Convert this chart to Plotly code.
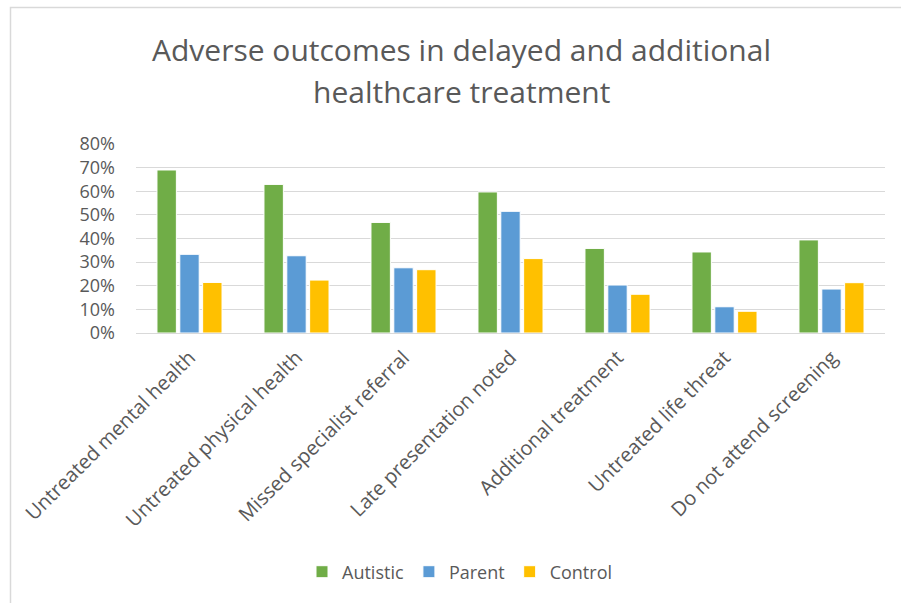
import plotly.graph_objects as go

categories = ["Untreated mental health", "Untreated physical health", "Missed specialist referral",
              "Late presentation noted", "Additional treatment", "Untreated life threat",
              "Do not attend screening"]
autistic = [0.690, 0.629, 0.468, 0.597, 0.358, 0.343, 0.394]
parent = [0.333, 0.327, 0.276, 0.515, 0.203, 0.111, 0.186]
control = [0.214, 0.224, 0.268, 0.315, 0.164, 0.092, 0.213]
series_names = ["Autistic", "Parent", "Control"]
colors = ["#70ad47", "#5b9bd5", "#ffc000"]
tick_vals = [0, 0.1, 0.2, 0.3, 0.4, 0.5, 0.6, 0.7, 0.8]
tick_text = ["0%", "10%", "20%", "30%", "40%", "50%", "60%", "70%", "80%"]
title_lines = ["Adverse outcomes in delayed and additional", "healthcare treatment"]

FONT = "Open Sans"
TXT = "#595959"
PW, PH, PL, PT = 749, 189, 136, 144  # plot area size / origin in pixels

fig = go.Figure()
for name, vals, col in zip(series_names, [autistic, parent, control], colors):
    fig.add_trace(go.Bar(x=categories, y=vals, name=name,
                         marker=dict(color=col, line=dict(color="white", width=1))))

def px_x(x):
    return (x - PL) / PW

def px_y(y):
    return (PT + PH - y) / PH

annotations = [dict(text=t, xref="paper", yref="paper", x=px_x(461), y=px_y(yy),
                    xanchor="center", yanchor="middle", showarrow=False,
                    font=dict(family=FONT, size=30, color=TXT))
               for t, yy in zip(title_lines, [50, 91])]

fig.update_layout(
    width=901, height=603,
    paper_bgcolor="white", plot_bgcolor="white",
    margin=dict(l=PL, r=901 - PL - PW, t=PT, b=603 - PT - PH),
    barmode="group", bargap=0.36, bargroupgap=0.15,
    font=dict(family=FONT, color=TXT),
    annotations=annotations,
    legend=dict(orientation="h", x=px_x(460), xanchor="center", y=px_y(572), yanchor="middle",
                font=dict(family=FONT, size=18, color=TXT), itemwidth=30,
                traceorder="normal"),
    xaxis=dict(tickangle=-45, tickfont=dict(family=FONT, size=20, color=TXT),
               showline=True, linecolor="#d9d9d9", linewidth=1, ticks="",
               showgrid=False, ticklabelstandoff=4),
    yaxis=dict(range=[0, 0.8], tickvals=tick_vals, ticktext=tick_text,
               tickfont=dict(family=FONT, size=18, color=TXT),
               showgrid=True, gridcolor="#d9d9d9", gridwidth=1,
               zeroline=False, showline=False, ticks="", ticklabelstandoff=20),
    shapes=[dict(type="rect", xref="paper", yref="paper",
                 x0=px_x(10.5), x1=px_x(920), y0=px_y(620), y1=px_y(7.5),
                 line=dict(color="#d9d9d9", width=1.5), fillcolor="rgba(0,0,0,0)",
                 layer="below")],
)

fig.write_html("out.html", config={"displayModeBar": False},
               post_script="document.body.style.margin='0';document.body.style.overflow='hidden';")
